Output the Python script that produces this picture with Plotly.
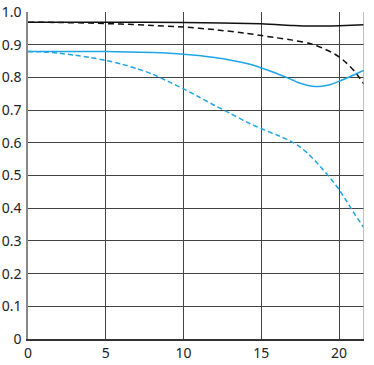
import plotly.graph_objects as go

x_black_solid = [0, 5, 10, 15, 17, 18, 19, 20, 21.6]
y_black_solid = [0.969, 0.969, 0.968, 0.964, 0.959, 0.957, 0.957, 0.958, 0.961]

x_black_dash = [0, 2, 4, 6, 8, 10, 12, 14, 15, 16, 17, 18, 18.5, 19, 19.5, 20, 20.5, 21, 21.6]
y_black_dash = [0.969, 0.968, 0.966, 0.963, 0.959, 0.954, 0.946, 0.935, 0.928, 0.921, 0.914, 0.905, 0.898, 0.888, 0.877, 0.863, 0.843, 0.818, 0.78]

x_blue_solid = [0, 5, 8, 10, 12, 14, 15, 16, 17, 17.5, 18, 18.5, 19, 19.5, 20, 20.5, 21, 21.6]
y_blue_solid = [0.879, 0.879, 0.876, 0.871, 0.861, 0.843, 0.829, 0.812, 0.792, 0.782, 0.775, 0.772, 0.774, 0.779, 0.788, 0.798, 0.809, 0.822]

x_blue_dash = [0, 1, 2, 3, 4, 5, 6, 7, 8, 9, 10, 11, 12, 13, 14, 15, 16, 17, 17.5, 18, 18.5, 19, 19.5, 20, 20.5, 21, 21.6]
y_blue_dash = [0.879, 0.878, 0.874, 0.868, 0.861, 0.852, 0.841, 0.827, 0.81, 0.788, 0.765, 0.74, 0.714, 0.69, 0.665, 0.643, 0.624, 0.602, 0.587, 0.567, 0.543, 0.516, 0.488, 0.457, 0.42, 0.382, 0.34]

y_ticks = [0, 0.1, 0.2, 0.3, 0.4, 0.5, 0.6, 0.7, 0.8, 0.9, 1.0]
y_tick_labels = ["0", "0.1", "0.2", "0.3", "0.4", "0.5", "0.6", "0.7", "0.8", "0.9", "1.0"]
x_ticks = [0, 5, 10, 15, 20]

BLUE = "#1ea5e9"

fig = go.Figure()
fig.add_trace(go.Scatter(x=x_black_solid, y=y_black_solid, mode="lines",
                         line=dict(color="#111111", width=1.5, shape="spline", smoothing=0.6)))
fig.add_trace(go.Scatter(x=x_black_dash, y=y_black_dash, mode="lines",
                         line=dict(color="#111111", width=1.5, shape="spline", smoothing=0.6, dash="6px,4px")))
fig.add_trace(go.Scatter(x=x_blue_solid, y=y_blue_solid, mode="lines",
                         line=dict(color=BLUE, width=1.5, shape="spline", smoothing=0.6)))
fig.add_trace(go.Scatter(x=x_blue_dash, y=y_blue_dash, mode="lines",
                         line=dict(color=BLUE, width=1.5, shape="spline", smoothing=0.6, dash="5px,3px")))

fig.add_shape(type="line", xref="x", yref="y", x0=21.6, x1=21.6, y0=0, y1=1.0,
              line=dict(color="#aaaaaa", width=1.5))

fig.update_layout(
    width=374, height=365,
    margin=dict(l=28, r=10, t=12, b=26, autoexpand=False),
    plot_bgcolor="white", paper_bgcolor="white",
    showlegend=False,
    font=dict(family="Noto Sans", size=14, color="#222222"),
)
fig.update_xaxes(range=[0, 21.6], tickvals=x_ticks, showgrid=True, gridcolor="#444444",
                 gridwidth=1, zeroline=False, showline=True, linecolor="#333333",
                 linewidth=1.5, ticks="", tickfont=dict(size=14), automargin=False,
                 ticklabelstandoff=0)
fig.update_yaxes(range=[0, 1.0], tickvals=y_ticks, ticktext=y_tick_labels, showgrid=True,
                 gridcolor="#444444", gridwidth=1, zeroline=False, showline=True,
                 linecolor="#888888", linewidth=1.5, ticks="", tickfont=dict(size=14),
                 automargin=False, ticklabelstandoff=2)

fig.write_html("out.html",
               config={"displayModeBar": False},
               post_script="document.body.style.margin='0';document.body.style.overflow='hidden';")
